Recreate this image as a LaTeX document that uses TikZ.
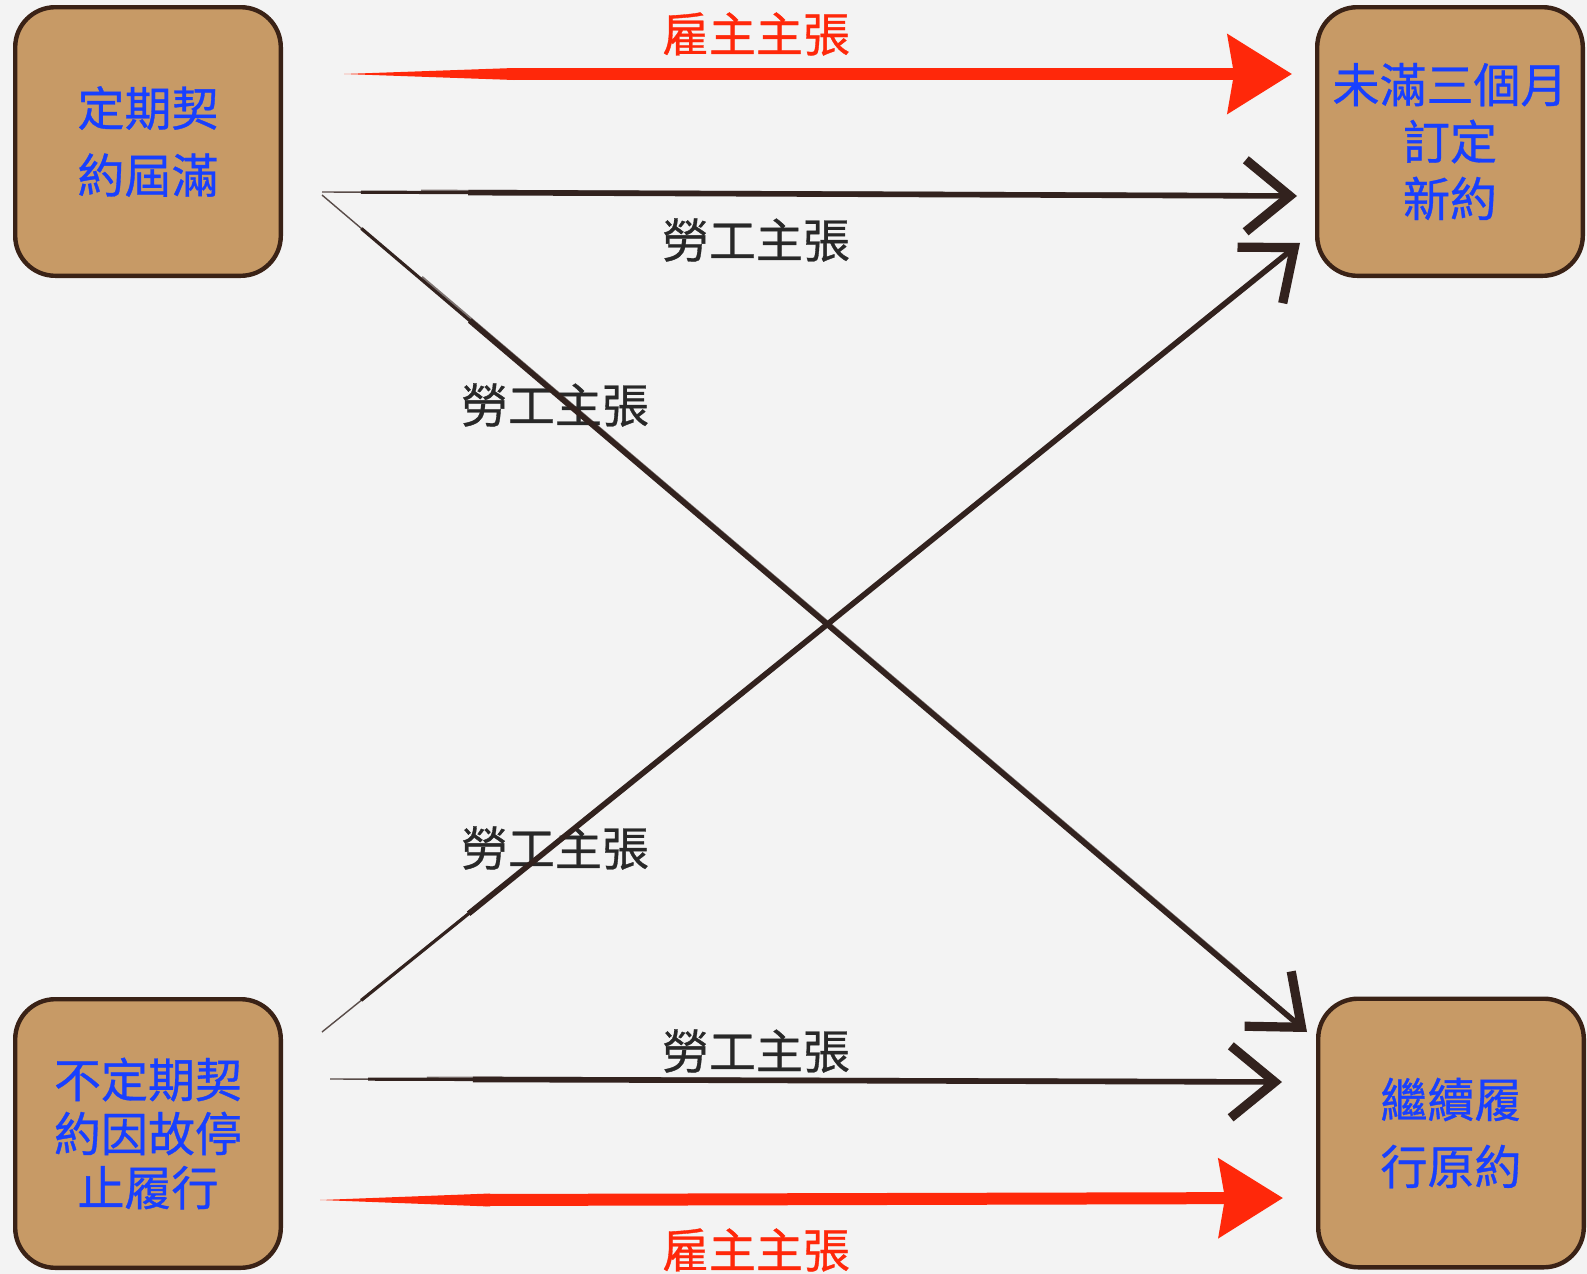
\documentclass[tikz,border=0pt]{standalone}
\usepackage{fontspec}
\newfontfamily\cjk[FakeBold=0.7]{Noto Sans CJK TC}
\usetikzlibrary{arrows.meta,calc}
\definecolor{bgc}{RGB}{243,243,243}
\definecolor{tanc}{RGB}{199,154,102}
\definecolor{boxline}{RGB}{58,34,22}
\definecolor{txtblue}{RGB}{24,64,255}
\definecolor{arrred}{RGB}{255,40,10}
\definecolor{ink}{RGB}{50,34,30}
\definecolor{lblc}{RGB}{40,40,40}
\newcommand\inkarrow[2]{%
  \draw[ink,line width=0.7pt,opacity=0.8] (#1) -- ($(#1)!0.9!(#2)$);
  \draw[ink,line width=1.6pt] ($(#1)!0.04!(#2)$) -- ($(#1)!0.3!(#2)$);
  \draw[ink,line width=1pt,opacity=0.6,transform canvas={shift={(0.8pt,0.9pt)}}] ($(#1)!0.1!(#2)$) -- ($(#1)!0.93!(#2)$);
  \draw[inkarr] ($(#1)!0.15!(#2)$) -- (#2);}
\begin{document}
\begin{tikzpicture}[x=0.5pt,y=-0.5pt,
  box/.style={draw=boxline,line width=2.2pt,fill=tanc,rounded corners=20pt,
    minimum width=132.8pt,minimum height=134.3pt,align=center,text=txtblue,inner sep=0pt,
    font=\cjk\fontsize{23.5}{#1}\selectfont},
  lbl/.style={font=\cjk\fontsize{23.5}{28}\selectfont,text=lblc,inner sep=0pt},
  rlbl/.style={lbl,text=arrred},
  redarr/.style={draw=arrred,line width=6pt,-{Stealth[length=32pt,width=39pt,inset=3pt]}},
  inkarr/.style={draw=ink,line width=2.8pt,-{Straight Barb[length=22pt,width=36pt,line width=4.6pt]}}
]
\fill[bgc] (0,0) rectangle (1587,1274);
\useasboundingbox (0,0) rectangle (1587,1274);

% boxes
\node[box=33.5pt] (tl) at (148,141.5) {定期契\\約屆滿};
\node[box=28.5pt] (tr) at (1450,141.5) {未滿三個月\\訂定\\新約};
\node[box=27pt] (bl) at (148,1133.5) {不定期契\\約因故停\\止履行};
\node[box=33.5pt] (br) at (1451,1133) {繼續履\\行原約};

% labels
\node[rlbl] (l1) at (756,34) {雇主主張};
\node[lbl] (l2) at (756,240) {勞工主張};
\node[lbl] (l3) at (555,405) {勞工主張};
\node[lbl] (l4) at (555,848) {勞工主張};
\node[lbl] (l5) at (756,1051) {勞工主張};
\node[rlbl] (l6) at (756,1250) {雇主主張};

% arrow ends
\coordinate (r1s) at (344,74);   \coordinate (r1e) at (1292,74);
\coordinate (k1s) at (322,192);  \coordinate (k1e) at (1297,196);
\coordinate (k2s) at (322,195);  \coordinate (k2e) at (1307,1032);
\coordinate (k3s) at (322,1032); \coordinate (k3e) at (1300,243);
\coordinate (k4s) at (330,1079); \coordinate (k4e) at (1282,1082);
\coordinate (r2s) at (320,1200); \coordinate (r2e) at (1283,1198);

% red arrows
\fill[arrred] (r1s) -- ($(r1s)+(170,-6)$) -- ($(r1s)+(170,6)$) -- cycle;
\draw[redarr] ($(r1s)+(165,0)$) -- (r1e);
\fill[arrred] (r2s) -- ($(r2s)+(170,-6.5)$) -- ($(r2s)+(170,6.5)$) -- cycle;
\draw[redarr] ($(r2s)+(165,0)$) -- (r2e);

% ink arrows
\inkarrow{k1s}{k1e}
\inkarrow{k2s}{k2e}
\inkarrow{k3s}{k3e}
\inkarrow{k4s}{k4e}
\end{tikzpicture}
\end{document}
